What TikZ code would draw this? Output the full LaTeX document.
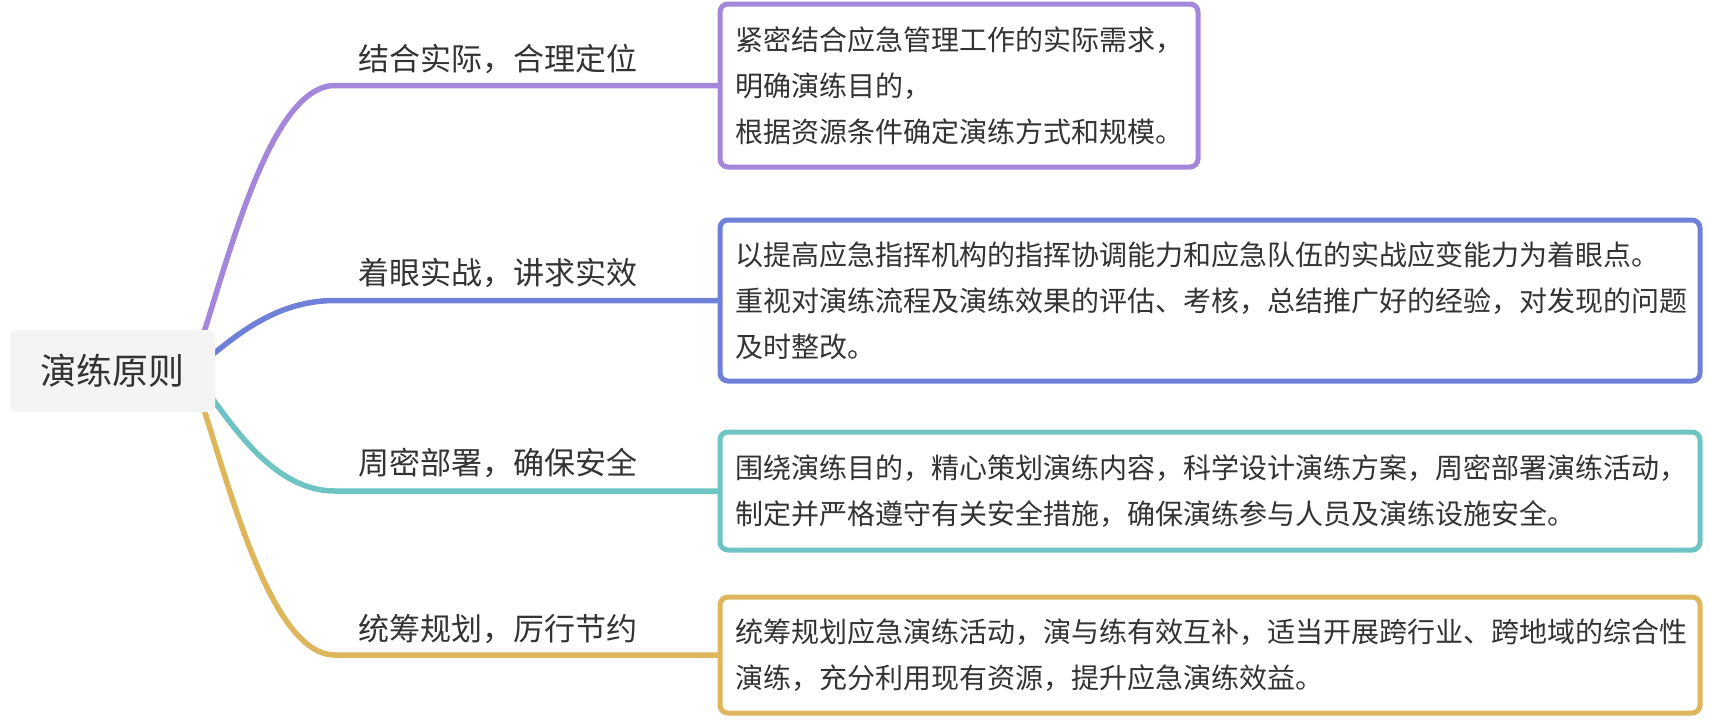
\documentclass[tikz,border=0pt]{standalone}
\usepackage{fontspec}
\newfontfamily\cjk{Noto Sans CJK SC}
\usetikzlibrary{calc,backgrounds}
\definecolor{cpur}{HTML}{A487DB}
\definecolor{cblu}{HTML}{6F80D8}
\definecolor{ctea}{HTML}{6DC4C2}
\definecolor{cgol}{HTML}{DEB65B}
\definecolor{ctxt}{HTML}{333333}
\definecolor{croot}{HTML}{F4F4F4}
\begin{document}
\begin{tikzpicture}[x=1pt,y=-1pt,
  box/.style={draw, fill=white, line width=5pt, rounded corners=8pt, anchor=west,
    align=left, inner xsep=15pt, inner ysep=0pt, outer sep=0pt,
    font=\cjk\fontsize{28pt}{46pt}\selectfont, text=ctxt},
  lbl/.style={anchor=west, inner sep=0pt, font=\cjk\fontsize{31pt}{36pt}\selectfont, text=ctxt},
  br/.style={line width=5.5pt, line cap=round}]
\useasboundingbox (0,0) rectangle (1710,720);

\node[fill=croot, rounded corners=6pt, minimum width=205pt, minimum height=82pt,
  inner sep=0pt, font=\cjk\fontsize{36pt}{40pt}\selectfont, text=ctxt] (root) at (112.5,371) {演练原则};

\node[box, draw=cpur, text width=448pt, minimum height=163pt] (b1) at (720,85.5)
  {紧密结合应急管理工作的实际需求，\\明确演练目的，\\根据资源条件确定演练方式和规模。};
\node[box, draw=cblu, text width=950pt, minimum height=161pt] (b2) at (720,300.5)
  {以提高应急指挥机构的指挥协调能力和应急队伍的实战应变能力为着眼点。\\重视对演练流程及演练效果的评估、考核，总结推广好的经验，对发现的问题\\及时整改。};
\node[box, draw=ctea, text width=950pt, minimum height=118pt] (b3) at (720,491)
  {围绕演练目的，精心策划演练内容，科学设计演练方案，周密部署演练活动，\\制定并严格遵守有关安全措施，确保演练参与人员及演练设施安全。};
\node[box, draw=cgol, text width=950pt, minimum height=116pt] (b4) at (720,655)
  {统筹规划应急演练活动，演与练有效互补，适当开展跨行业、跨地域的综合性\\演练，充分利用现有资源，提升应急演练效益。};

\node[lbl] (l1) at (358,59) {结合实际，合理定位};
\node[lbl] (l2) at (358,273) {着眼实战，讲求实效};
\node[lbl] (l3) at (358,463) {周密部署，确保安全};
\node[lbl] (l4) at (358,629) {统筹规划，厉行节约};

\begin{pgfonlayer}{background}
\coordinate (o) at ($(root.center)+(78,0)$);
\coordinate (e1) at ($(b1.west)+(-385,0)$);
\coordinate (e2) at ($(b2.west)+(-385,0)$);
\coordinate (e3) at ($(b3.west)+(-385,0)$);
\coordinate (e4) at ($(b4.west)+(-385,0)$);
\draw[br, draw=cpur] (o) .. controls +(29,-71) and +(-72,0) .. (e1) -- (b1.west);
\draw[br, draw=cblu] (o) .. controls +(29,-18) and +(-72,0) .. (e2) -- (b2.west);
\draw[br, draw=ctea] (o) .. controls +(29,30) and +(-72,0) .. (e3) -- (b3.west);
\draw[br, draw=cgol] (o) .. controls +(29,71) and +(-72,0) .. (e4) -- (b4.west);
\end{pgfonlayer}
\end{tikzpicture}
\end{document}
